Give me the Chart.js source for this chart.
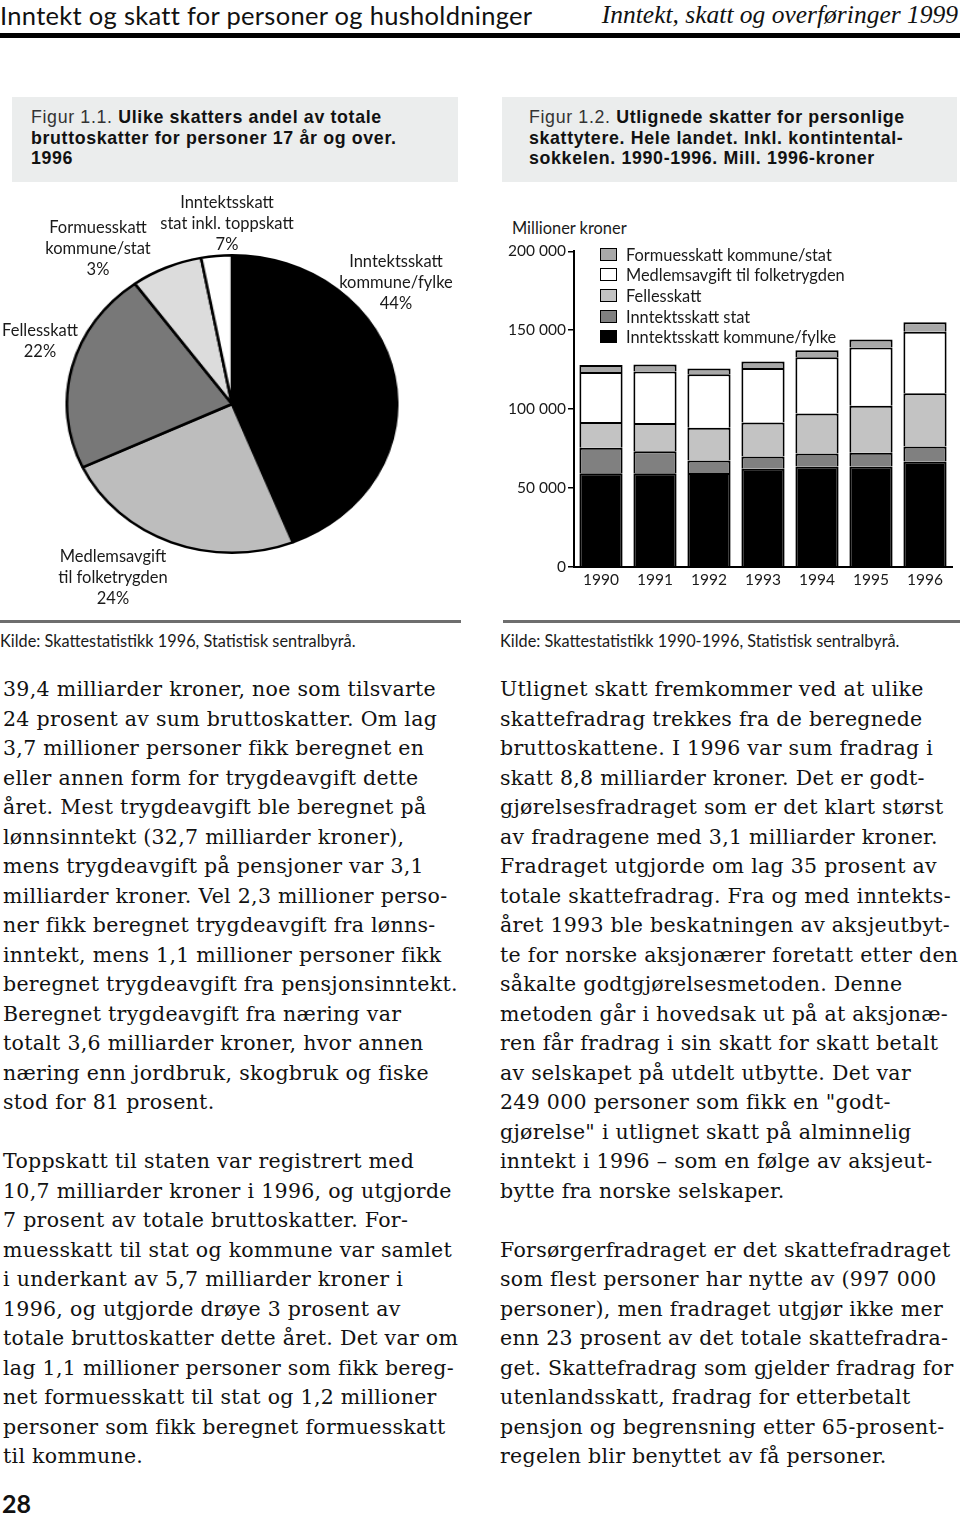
<!DOCTYPE html>
<html lang="no">
<head>
<meta charset="utf-8">
<script src="https://cdn.jsdelivr.net/npm/chart.js@4/dist/chart.umd.min.js"></script>
<style>
  html, body { margin:0; padding:0; background:#fff; }
  body { position:relative; width:960px; height:1515px; overflow:hidden; color:#111; font-family: Lato, "Open Sans", sans-serif; }
  .abs { position:absolute; }
  .hdr-left { left:0; top:0; font-size:25.5px; letter-spacing:0.3px; line-height:30px; white-space:nowrap; }
  .hdr-right { right:2px; top:0; font-family:"Liberation Serif", serif; font-style:italic; font-size:25.5px; line-height:30px; white-space:nowrap; }
  .rule { left:0; top:33px; width:960px; height:5px; background:#000; }
  .cap { background:#ebeded; top:97px; height:85px; box-sizing:border-box; padding-top:10px; font-family:"Liberation Sans", Arial, sans-serif; font-size:17.8px; letter-spacing:0.65px; line-height:20.7px; white-space:nowrap; color:#111; }
  .cap .lt { font-weight:400; color:#333; }
  .cap b { font-weight:700; }
  .plab { text-align:center; font-size:16.5px; line-height:21px; white-space:nowrap; color:#1a1a1a; transform:translateX(-50%); }
  .srule { top:620px; height:3px; background:#6e6e6e; }
  .kilde { top:631px; font-size:16.3px; line-height:20px; white-space:nowrap; color:#1a1a1a; }
  .col { top:675px; font-family:"DejaVu Serif", serif; font-size:20.5px; letter-spacing:0.3px; line-height:29.5px; color:#111; }
  .col div { white-space:nowrap; }
  .col .gap { height:29.5px; }
  #legend .row { display:flex; align-items:center; height:20.6px; font-size:16.4px; white-space:nowrap; color:#1a1a1a; }
  #legend .sw { width:15px; height:11px; border:1.5px solid #000; margin-right:9px; }
</style>
</head>
<body>
<div class="abs hdr-left">Inntekt og skatt for personer og husholdninger</div>
<div class="abs hdr-right">Inntekt, skatt og overføringer 1999</div>
<div class="abs rule"></div>

<div class="abs cap" style="left:12px;width:446px;padding-left:19px;"><span class="lt">Figur 1.1.</span> <b>Ulike skatters andel av totale</b><br><b>bruttoskatter for personer 17 år og over.</b><br><b>1996</b></div>
<div class="abs cap" style="left:502px;width:455px;padding-left:27px;"><span class="lt">Figur 1.2.</span> <b>Utlignede skatter for personlige</b><br><b>skattytere. Hele landet. Inkl. kontintental-</b><br><b>sokkelen. 1990-1996. Mill. 1996-kroner</b></div>

<!-- Pie chart (stretched horizontally like the original ellipse) -->
<div class="abs" style="left:82px;top:254px;width:300px;height:300px;transform:scaleX(1.11);transform-origin:150px 150px;">
  <canvas id="pie"></canvas>
</div>
<div id="pieLabels"></div>

<!-- Bar chart -->
<div class="abs" style="left:512px;top:217px;font-size:16.4px;line-height:22px;color:#1a1a1a;white-space:nowrap;">Millioner kroner</div>
<div class="abs" style="left:490px;top:240px;width:470px;height:352px;">
  <canvas id="bar"></canvas>
</div>
<div class="abs" id="legend" style="left:600px;top:244px;"></div>

<div class="abs srule" style="left:0;width:461px;"></div>
<div class="abs srule" style="left:503px;width:457px;"></div>
<div class="abs kilde" style="left:0;">Kilde: Skattestatistikk 1996, Statistisk sentralbyrå.</div>
<div class="abs kilde" style="left:500px;">Kilde: Skattestatistikk 1990-1996, Statistisk sentralbyrå.</div>

<div class="abs col" style="left:3px;">
<div>39,4 milliarder kroner, noe som tilsvarte</div>
<div>24 prosent av sum bruttoskatter. Om lag</div>
<div>3,7 millioner personer fikk beregnet en</div>
<div>eller annen form for trygdeavgift dette</div>
<div>året. Mest trygdeavgift ble beregnet på</div>
<div>lønnsinntekt (32,7 milliarder kroner),</div>
<div>mens trygdeavgift på pensjoner var 3,1</div>
<div>milliarder kroner. Vel 2,3 millioner perso-</div>
<div>ner fikk beregnet trygdeavgift fra lønns-</div>
<div>inntekt, mens 1,1 millioner personer fikk</div>
<div>beregnet trygdeavgift fra pensjonsinntekt.</div>
<div>Beregnet trygdeavgift fra næring var</div>
<div>totalt 3,6 milliarder kroner, hvor annen</div>
<div>næring enn jordbruk, skogbruk og fiske</div>
<div>stod for 81 prosent.</div>
<div class="gap"></div>
<div>Toppskatt til staten var registrert med</div>
<div>10,7 milliarder kroner i 1996, og utgjorde</div>
<div>7 prosent av totale bruttoskatter. For-</div>
<div>muesskatt til stat og kommune var samlet</div>
<div>i underkant av 5,7 milliarder kroner i</div>
<div>1996, og utgjorde drøye 3 prosent av</div>
<div>totale bruttoskatter dette året. Det var om</div>
<div>lag 1,1 millioner personer som fikk bereg-</div>
<div>net formuesskatt til stat og 1,2 millioner</div>
<div>personer som fikk beregnet formuesskatt</div>
<div>til kommune.</div>
</div>

<div class="abs col" style="left:500px;">
<div>Utlignet skatt fremkommer ved at ulike</div>
<div>skattefradrag trekkes fra de beregnede</div>
<div>bruttoskattene. I 1996 var sum fradrag i</div>
<div>skatt 8,8 milliarder kroner. Det er godt-</div>
<div>gjørelsesfradraget som er det klart størst</div>
<div>av fradragene med 3,1 milliarder kroner.</div>
<div>Fradraget utgjorde om lag 35 prosent av</div>
<div>totale skattefradrag. Fra og med inntekts-</div>
<div>året 1993 ble beskatningen av aksjeutbyt-</div>
<div>te for norske aksjonærer foretatt etter den</div>
<div>såkalte godtgjørelsesmetoden. Denne</div>
<div>metoden går i hovedsak ut på at aksjonæ-</div>
<div>ren får fradrag i sin skatt for skatt betalt</div>
<div>av selskapet på utdelt utbytte. Det var</div>
<div>249 000 personer som fikk en "godt-</div>
<div>gjørelse" i utlignet skatt på alminnelig</div>
<div>inntekt i 1996 – som en følge av aksjeut-</div>
<div>bytte fra norske selskaper.</div>
<div class="gap"></div>
<div>Forsørgerfradraget er det skattefradraget</div>
<div>som flest personer har nytte av (997 000</div>
<div>personer), men fradraget utgjør ikke mer</div>
<div>enn 23 prosent av det totale skattefradra-</div>
<div>get. Skattefradrag som gjelder fradrag for</div>
<div>utenlandsskatt, fradrag for etterbetalt</div>
<div>pensjon og begrensning etter 65-prosent-</div>
<div>regelen blir benyttet av få personer.</div>
</div>

<div class="abs" style="left:2px;top:1490px;font-size:25px;font-weight:700;line-height:27px;">28</div>

<script>
// ---------- Pie data (Figur 1.1) ----------
const pieNames = ['Inntektsskatt kommune/fylke', 'Medlemsavgift til folketrygden', 'Fellesskatt', 'Inntektsskatt stat inkl. toppskatt', 'Formuesskatt kommune/stat'];
const pieValues = [44, 24, 22, 7, 3];
const pieColors = ['#000000', '#bdbdbd', '#787878', '#dcdcdc', '#ffffff'];
const pieLabelLines = [['Inntektsskatt', 'kommune/fylke'], ['Medlemsavgift', 'til folketrygden'], ['Fellesskatt'], ['Inntektsskatt', 'stat inkl. toppskatt'], ['Formuesskatt', 'kommune/stat']];
const pieLabelPos = [[396, 251], [113, 546], [40, 320], [227, 192], [98, 217]];

// ---------- Bar data (Figur 1.2) ----------
const years = ['1990', '1991', '1992', '1993', '1994', '1995', '1996'];
const inntektKommuneFylke = [59400, 59400, 59600, 62300, 63700, 63700, 66900];
const inntektStat = [16100, 14000, 7900, 7700, 8200, 8600, 9400];
const fellesskatt = [16300, 17900, 20700, 21500, 25300, 29900, 33800];
const medlemsavgift = [31700, 32600, 33900, 34500, 35700, 36800, 39000];
const formuesskatt = [4400, 4400, 3700, 4200, 4400, 5200, 5900];
const yTicks = [0, 50000, 100000, 150000, 200000];

// pie labels as real text
const pl = document.getElementById('pieLabels');
pieLabelLines.forEach((lines, i) => {
  const d = document.createElement('div');
  d.className = 'abs plab';
  d.style.left = pieLabelPos[i][0] + 'px';
  d.style.top = pieLabelPos[i][1] + 'px';
  d.innerHTML = lines.concat([pieValues[i] + '%']).join('<br>');
  pl.appendChild(d);
});

new Chart(document.getElementById('pie'), {
  type: 'pie',
  data: { labels: pieNames, datasets: [{ data: pieValues, backgroundColor: pieColors, borderColor: '#000', borderWidth: 2.5 }] },
  options: {
    responsive: true, maintainAspectRatio: false, animation: false,
    plugins: { legend: { display: false }, tooltip: { enabled: false } },
    layout: { padding: 0 }
  }
});

const datasets = [
  { label: 'Inntektsskatt kommune/fylke', data: inntektKommuneFylke, backgroundColor: '#000000' },
  { label: 'Inntektsskatt stat', data: inntektStat, backgroundColor: '#808080' },
  { label: 'Fellesskatt', data: fellesskatt, backgroundColor: '#c3c3c3' },
  { label: 'Medlemsavgift til folketrygden', data: medlemsavgift, backgroundColor: '#ffffff' },
  { label: 'Formuesskatt kommune/stat', data: formuesskatt, backgroundColor: '#a8a8a8' }
].map(d => Object.assign(d, { borderColor: '#000', borderWidth: 2, barPercentage: 0.8, categoryPercentage: 1.0 }));

// HTML legend built from datasets (top of stack first)
const lg = document.getElementById('legend');
datasets.slice().reverse().forEach(d => {
  const r = document.createElement('div');
  r.className = 'row';
  r.innerHTML = '<span class="sw" style="background:' + d.backgroundColor + '"></span>' + d.label;
  lg.appendChild(r);
});

const fmt = v => String(v).replace(/\B(?=(\d{3})+(?!\d))/g, ' ');

new Chart(document.getElementById('bar'), {
  type: 'bar',
  data: { labels: years, datasets },
  options: {
    responsive: true, maintainAspectRatio: false, animation: false,
    layout: { padding: { top: 10, right: 8, left: 0, bottom: 0 } },
    plugins: { legend: { display: false }, tooltip: { enabled: false } },
    scales: {
      x: {
        stacked: true,
        grid: { display: false, drawTicks: false },
        border: { display: true, color: '#000', width: 2 },
        ticks: { color: '#1a1a1a', font: { family: 'Lato', size: 15.5 }, padding: 4 },
        afterFit: s => { s.height = 25; }
      },
      y: {
        stacked: true, min: 0, max: 200000,
        afterBuildTicks: s => { s.ticks = yTicks.map(v => ({ value: v })); },
        grid: { drawOnChartArea: false, drawTicks: true, tickLength: 6, color: '#000', lineWidth: 1.5 },
        border: { display: true, color: '#000', width: 2 },
        ticks: { color: '#1a1a1a', font: { family: 'Lato', size: 15.5 }, padding: 2, callback: v => fmt(v) },
        afterFit: s => { s.width = 84; }
      }
    }
  }
});
</script>
</body>
</html>
